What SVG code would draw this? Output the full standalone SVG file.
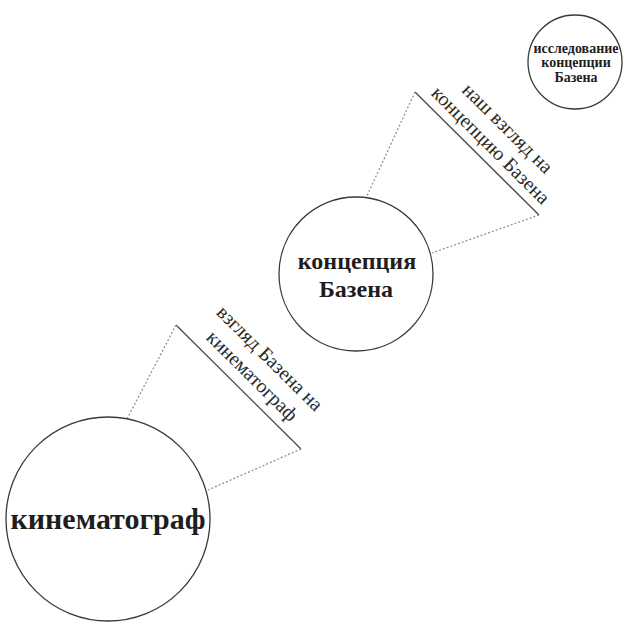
<svg xmlns="http://www.w3.org/2000/svg" width="623" height="625" viewBox="0 0 623 625">
  <style>
    .node circle { fill: #ffffff; stroke: #3a3a3a; stroke-width: 1.3; }
    .node text { font-family: "Liberation Serif", "DejaVu Serif", serif; font-weight: bold; fill: #1e1e1e; text-anchor: middle; }
    .edge .bar { stroke: #4a4a4a; stroke-width: 1.3; fill: none; }
    .edge .dot { stroke: #8a8a8a; stroke-width: 1.2; stroke-dasharray: 2 2; fill: none; }
    .edge text { font-family: "Liberation Serif", "DejaVu Serif", serif; font-size: 20px; fill: #2a2a2a; text-anchor: middle; }
  </style>
  <rect width="623" height="625" fill="#ffffff"/>

  <!-- connectors: label bar plus dotted lead lines to each circle -->
  <g id="connectors">
    <g class="edge" id="edge-kino-concept">
      <line class="bar" x1="176" y1="325" x2="301" y2="449"/>
      <line class="dot" x1="176" y1="325" x2="127" y2="419"/>
      <line class="dot" x1="301" y1="449" x2="208" y2="490"/>
      <g transform="translate(238.5 387) rotate(44.8)">
        <text x="2" y="-36">взгляд Базена на</text>
        <text x="2" y="-11">кинематограф</text>
      </g>
    </g>
    <g class="edge" id="edge-concept-study">
      <line class="bar" x1="415" y1="92" x2="539" y2="215"/>
      <line class="dot" x1="415" y1="92" x2="366" y2="198"/>
      <line class="dot" x1="539" y1="215" x2="432" y2="253"/>
      <g transform="translate(477 153.5) rotate(44.8)">
        <text x="4" y="-33">наш взгляд на</text>
        <text x="4" y="-9">концепцию Базена</text>
      </g>
    </g>
  </g>

  <g class="node" id="node-kino">
    <circle cx="108" cy="519" r="102"/>
    <text x="108" y="529" font-size="30">кинематограф</text>
  </g>

  <g class="node" id="node-concept">
    <circle cx="356" cy="274" r="77"/>
    <text x="357" y="269" font-size="24">концепция</text>
    <text x="356" y="297" font-size="24">Базена</text>
  </g>

  <g class="node" id="node-study">
    <circle cx="575" cy="62" r="47"/>
    <text x="576" y="53" font-size="14">исследование</text>
    <text x="576" y="67" font-size="14">концепции</text>
    <text x="576" y="82" font-size="14">Базена</text>
  </g>
</svg>
